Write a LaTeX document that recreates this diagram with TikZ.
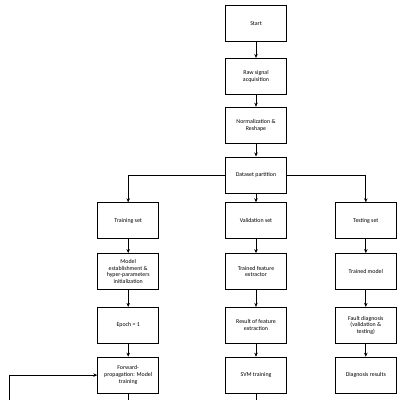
\documentclass[tikz,border=0pt]{standalone}
\usepackage{fontspec}
\setmainfont{Carlito}
\usepackage{tikz}
\usetikzlibrary{arrows.meta, positioning}

\begin{document}
\begin{tikzpicture}[
    node distance=13pt and 48pt,
    box/.style={rectangle, draw, line width=0.8pt, align=center,
                font=\fontsize{5.9}{6.8}\selectfont,
                minimum height=36pt, minimum width=61pt, inner sep=1pt},
    arrow/.style={-{Stealth[length=4pt, width=3.5pt]}, line width=0.8pt},
    line/.style={line width=0.8pt}
]
\useasboundingbox (0,0) rectangle (400pt,-400pt);

% main column
\node[box] (start) at (256pt,-23.5pt) {Start};
\node[box, below=16pt of start] (raw)  {Raw signal\\acquisition};
\node[box, below=12pt of raw]   (norm) {Normalization \&\\Reshape};
\node[box, below=of norm]       (part) {Dataset partition};

% three branches
\node[box, below=9pt of part]   (valid) {Validation set};
\node[box, left=66pt of valid]  (train) {Training set};
\node[box, right=of valid]      (test)  {Testing set};

\node[box, below=14pt of train] (model) {Model\\establishment \&\\hyper-parameters\\initialization};
\node[box, below=17pt of model] (epoch) {Epoch = 1};
\node[box, below=of epoch]      (fwd)   {Forward-\\propagation: Model\\training};

\node[box, below=14pt of valid] (extr)  {Trained feature\\extractor};
\node[box, below=17pt of extr]  (feat)  {Result of feature\\extraction};
\node[box, below=of feat]       (svm)   {SVM training};

\node[box, below=14pt of test]  (tmod)  {Trained model};
\node[box, below=17pt of tmod]  (diag)  {Fault diagnosis\\(validation \&\\testing)};
\node[box, below=of diag]       (res)   {Diagnosis results};

\coordinate (loop) at (9pt,-400pt);

\draw[arrow] (start) -- (raw);
\draw[arrow] (raw)   -- (norm);
\draw[arrow] (norm)  -- (part);
\draw[arrow] (part)  -- (valid);
\draw[arrow] (part.west) -| (train.north);
\draw[arrow] (part.east) -| (test.north);

\draw[arrow] (train) -- (model);
\draw[arrow] (model) -- (epoch);
\draw[arrow] (epoch) -- (fwd);
\draw[arrow] (valid) -- (extr);
\draw[arrow] (extr)  -- (feat);
\draw[arrow] (feat)  -- (svm);
\draw[arrow] (test)  -- (tmod);
\draw[arrow] (tmod)  -- (diag);
\draw[arrow] (diag)  -- (res);

\draw[line]  (fwd.south) -- (fwd.south |- loop);
\draw[line]  (svm.south) -- (svm.south |- loop);
\draw[arrow] (loop) |- (fwd.west);

\end{tikzpicture}
\end{document}
